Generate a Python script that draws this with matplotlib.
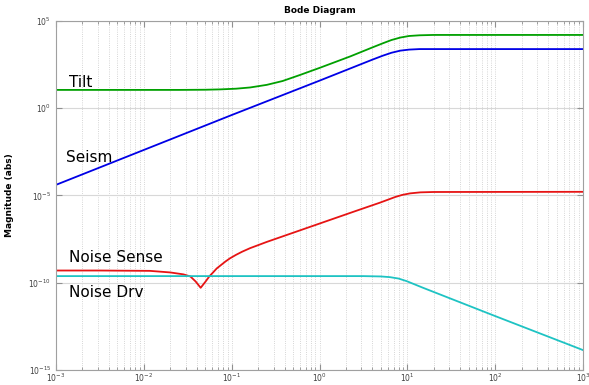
import numpy as np
import matplotlib.pyplot as plt

# frequency / magnitude pairs, stored as log10 values
tilt_lf = [-3, -1.6, -1.3, -1.13, -0.95, -0.79, -0.6, -0.42, -0.22, 0.0, 0.35, 0.6, 0.72, 0.82, 0.92, 1.02, 1.14, 1.3, 1.5, 3]
tilt_lm = [1.05, 1.05, 1.06, 1.08, 1.12, 1.19, 1.34, 1.56, 1.91, 2.31, 2.97, 3.48, 3.72, 3.91, 4.05, 4.14, 4.18, 4.20, 4.20, 4.20]

seism_lf = [-3, -2, -1, 0, 0.4, 0.6, 0.72, 0.82, 0.92, 1.02, 1.14, 1.3, 3]
seism_lm = [-4.39, -2.39, -0.39, 1.58, 2.38, 2.78, 3.01, 3.18, 3.30, 3.36, 3.39, 3.39, 3.39]

sense_lf = [-3, -2.5, -1.93, -1.7, -1.55, -1.47, -1.41, -1.353, -1.30, -1.255, -1.21, -1.17, -1.12, -1.07, -1.019,
            -0.95, -0.88, -0.791, -0.6, -0.4, -0.2, 0.0, 0.2, 0.4, 0.55, 0.689, 0.78, 0.86, 0.94, 1.03, 1.15, 1.3, 3]
sense_lm = [-9.30, -9.30, -9.32, -9.41, -9.52, -9.64, -9.93, -10.29, -9.95, -9.64, -9.40, -9.18, -8.98, -8.78, -8.60,
            -8.40, -8.22, -8.02, -7.66, -7.31, -6.96, -6.61, -6.26, -5.91, -5.65, -5.41, -5.24, -5.09, -4.97, -4.88, -4.82, -4.80, -4.79]

drv_lf = [-3, 0.5, 0.7, 0.803, 0.9, 0.993, 1.179, 2.0, 3.0]
drv_lm = [-9.62, -9.62, -9.64, -9.68, -9.76, -9.91, -10.29, -11.91, -13.86]

labels = ['Tilt', 'Seism', 'Noise Sense', 'Noise Drv']
label_pos = [(1.4e-3, 10**1.5), (1.3e-3, 10**-2.85), (1.4e-3, 10**-8.55), (1.4e-3, 10**-10.55)]

fig = plt.figure(figsize=(5.89, 3.85), dpi=100)
ax = fig.add_axes([0.0951, 0.039, 0.8947, 0.9065])

ax.plot(10**np.array(tilt_lf), 10**np.array(tilt_lm), color='#00a000', lw=1.3)
ax.plot(10**np.array(seism_lf), 10**np.array(seism_lm), color='#0000e6', lw=1.3)
ax.plot(10**np.array(sense_lf), 10**np.array(sense_lm), color='#e61414', lw=1.3)
ax.plot(10**np.array(drv_lf), 10**np.array(drv_lm), color='#1ec3c3', lw=1.3)

ax.set_xscale('log')
ax.set_yscale('log')
ax.set_xlim(1e-3, 1e3)
ax.set_ylim(1e-15, 1e5)
ax.set_yticks([1e-15, 1e-10, 1e-5, 1e0, 1e5])
ax.yaxis.set_minor_locator(plt.NullLocator())

ax.grid(True, which='major', axis='y', color='#d8d8d8', lw=0.8, ls='-')
ax.grid(True, which='both', axis='x', color='#c8c8c8', lw=0.6, ls=':')

ax.tick_params(which='both', direction='in', top=True, right=True, colors='#909090', labelcolor='#404040', labelsize=5.5)
ax.tick_params(which='major', length=4)
ax.tick_params(which='minor', length=2)
ax.tick_params(axis='x', pad=1.5)
for s in ax.spines.values():
    s.set_color('#a0a0a0')
    s.set_linewidth(0.8)

for t, (x, y) in zip(labels, label_pos):
    ax.text(x, y, t, fontsize=11, va='center', ha='left', color='black')

ax.set_title('Bode Diagram', fontsize=6.5, fontweight='bold', pad=6)
ax.set_ylabel('Magnitude (abs)', fontsize=6.5, fontweight='bold', labelpad=10)

fig.savefig('out.png', dpi=100)
